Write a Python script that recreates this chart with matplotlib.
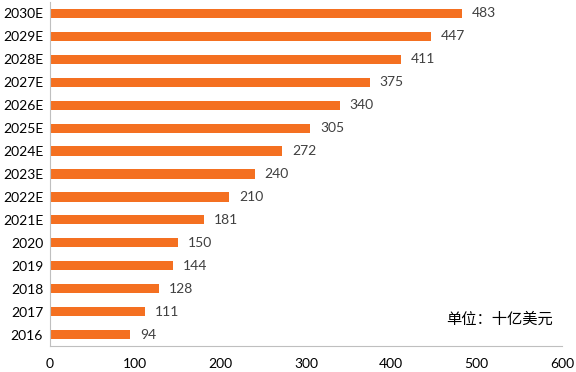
import matplotlib
matplotlib.use("Agg")
import matplotlib.pyplot as plt

# 数据（十亿美元）
years = ["2016", "2017", "2018", "2019", "2020", "2021E", "2022E", "2023E",
         "2024E", "2025E", "2026E", "2027E", "2028E", "2029E", "2030E"]
values = [94, 111, 128, 144, 150, 181, 210, 240, 272, 305, 340, 375, 411, 447, 483]
xticks = [0, 100, 200, 300, 400, 500, 600]

plt.rcParams['font.family'] = ['Lato', 'DejaVu Sans']

fig = plt.figure(figsize=(5.76, 3.72), dpi=100)
ax = fig.add_axes([50 / 576, 26 / 372, 512 / 576, 344 / 372])

pos = list(range(len(years)))
ax.barh(pos, values, height=0.4, color="#F47021")

for p, v in zip(pos, values):
    ax.annotate(str(v), (v, p), xytext=(7, 0), textcoords="offset points",
                va="center", ha="left", fontsize=10, color="#404040")

ax.set_xlim(0, 600)
ax.set_ylim(-0.5, len(years) - 0.5)
ax.set_xticks(xticks)
ax.set_yticks(pos)
ax.set_yticklabels(years)
ax.tick_params(axis="both", length=0, labelsize=10, colors="#000000")
ax.tick_params(axis="x", pad=9)
ax.tick_params(axis="y", pad=5)

for s in ["top", "right"]:
    ax.spines[s].set_visible(False)
ax.spines["left"].set_color("#BFBFBF")
ax.spines["bottom"].set_color("#BFBFBF")

ax.text(527, 0.65, "单位：十亿美元", ha="center", va="center", fontsize=11,
        family=["Noto Sans CJK SC", "DejaVu Sans"], color="#000000")

fig.savefig("out.png", dpi=100)
